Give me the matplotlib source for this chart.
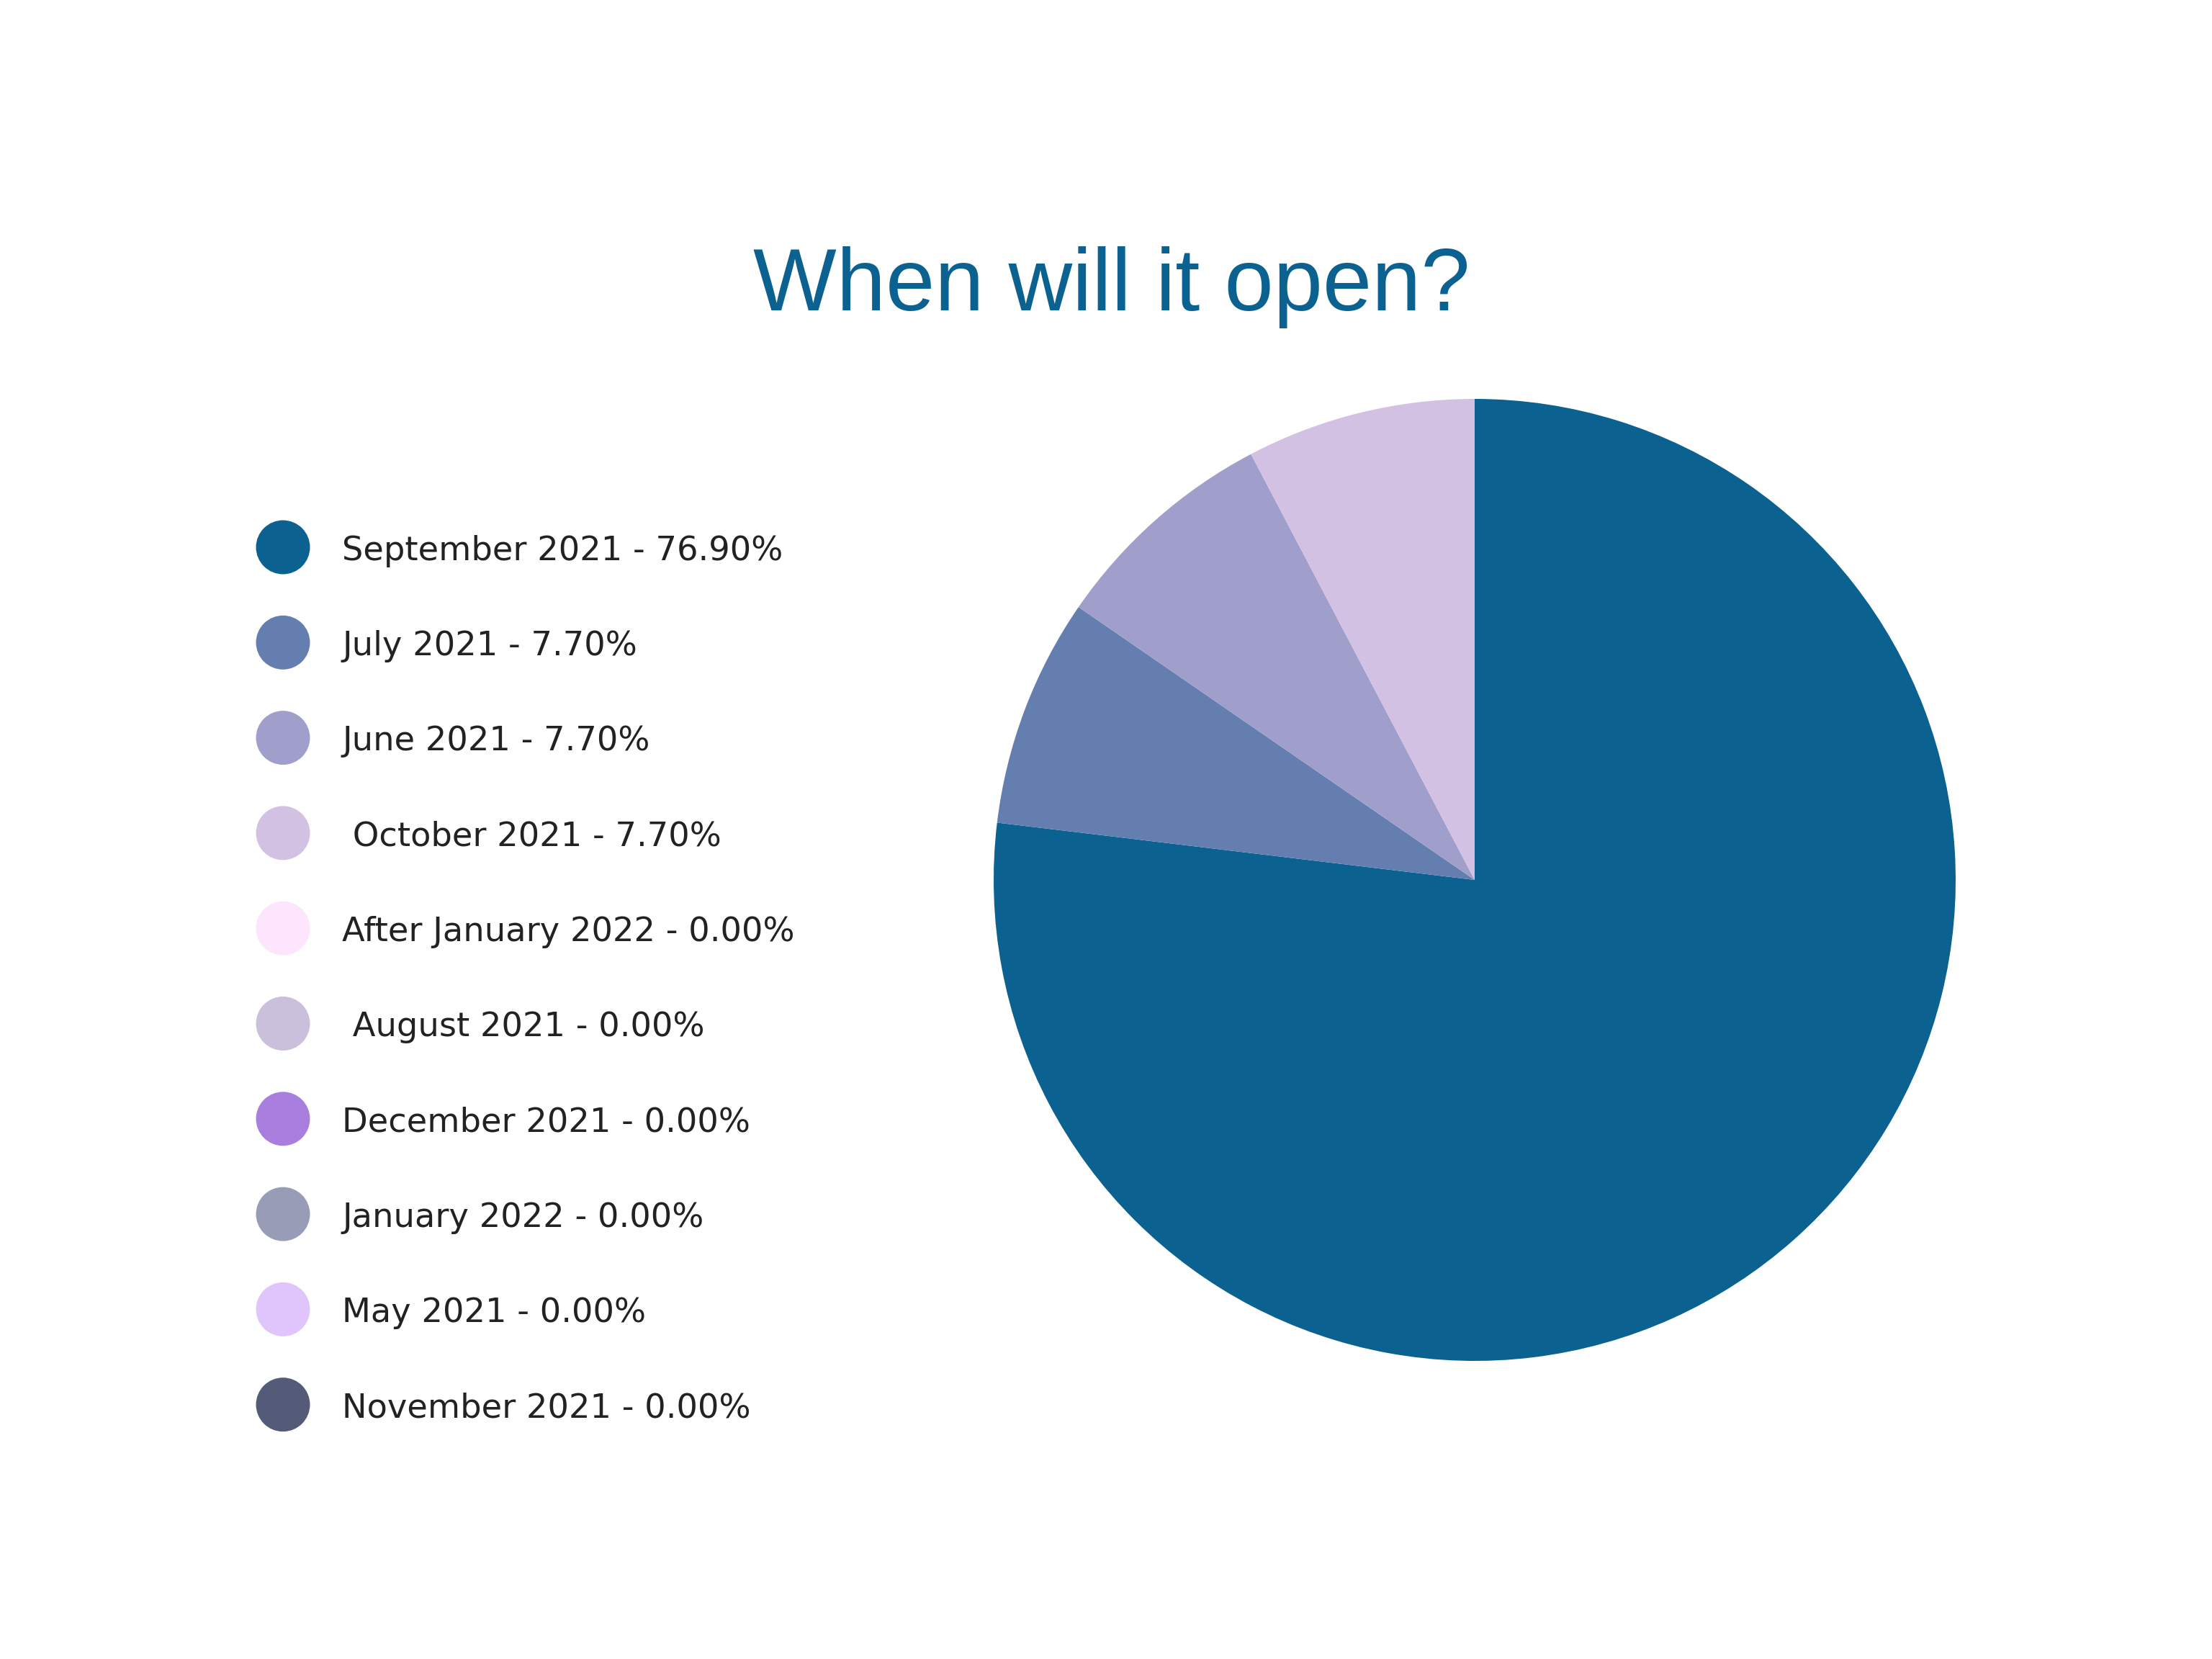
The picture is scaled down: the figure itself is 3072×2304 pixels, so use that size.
import matplotlib
matplotlib.use('Agg')
import matplotlib.pyplot as plt

labels = ['September 2021', 'July 2021', 'June 2021', ' October 2021',
          'After January 2022', ' August 2021', 'December 2021',
          'January 2022', 'May 2021', 'November 2021']
shares = [76.90, 7.70, 7.70, 7.70, 0.00, 0.00, 0.00, 0.00, 0.00, 0.00]
colors = ['#0b6190', '#647eaf', '#a09fcb', '#d3c1e4', '#fde6fd',
          '#cbc0db', '#a87fdf', '#979db6', '#dfc5fb', '#545b78']

W, H = 3072, 2304
fig = plt.figure(figsize=(16, 12), dpi=192)
fig.patch.set_facecolor('white')

# title
fig.text(1544 / W, 1 - 431 / H, 'When will it open?', ha='center', va='baseline',
         fontsize=46, color='#0b6190', family=['Liberation Sans', 'DejaVu Sans'])

# pie
cx, cy, r = 2048, 1222, 668
ax = fig.add_axes([(cx - r) / W, 1 - (cy + r) / H, 2 * r / W, 2 * r / H])
ax.pie(shares, colors=colors, startangle=90, counterclock=False,
       wedgeprops=dict(linewidth=0))
ax.set_xlim(-1, 1)
ax.set_ylim(-1, 1)
ax.axis('off')

# legend
top, step = 760, 132.3
n = len(labels)
lg = fig.add_axes([0, 1 - (top + (n - 0.5) * step) / H, 1200 / W, n * step / H])
lg.set_xlim(0, 1200)
lg.set_ylim(n - 0.5, -0.5)
lg.axis('off')
rows = list(range(n))
lg.scatter([393] * n, rows, s=790, c=colors, linewidths=0)
for i, (lab, val) in enumerate(zip(labels, shares)):
    lg.text(475, i, f'{lab} - {val:.2f}%', ha='left', va='center_baseline',
            fontsize=17.4, color='#222222',
            family=['DejaVu Sans'])

fig.savefig('out.png', dpi=192, facecolor='white')
